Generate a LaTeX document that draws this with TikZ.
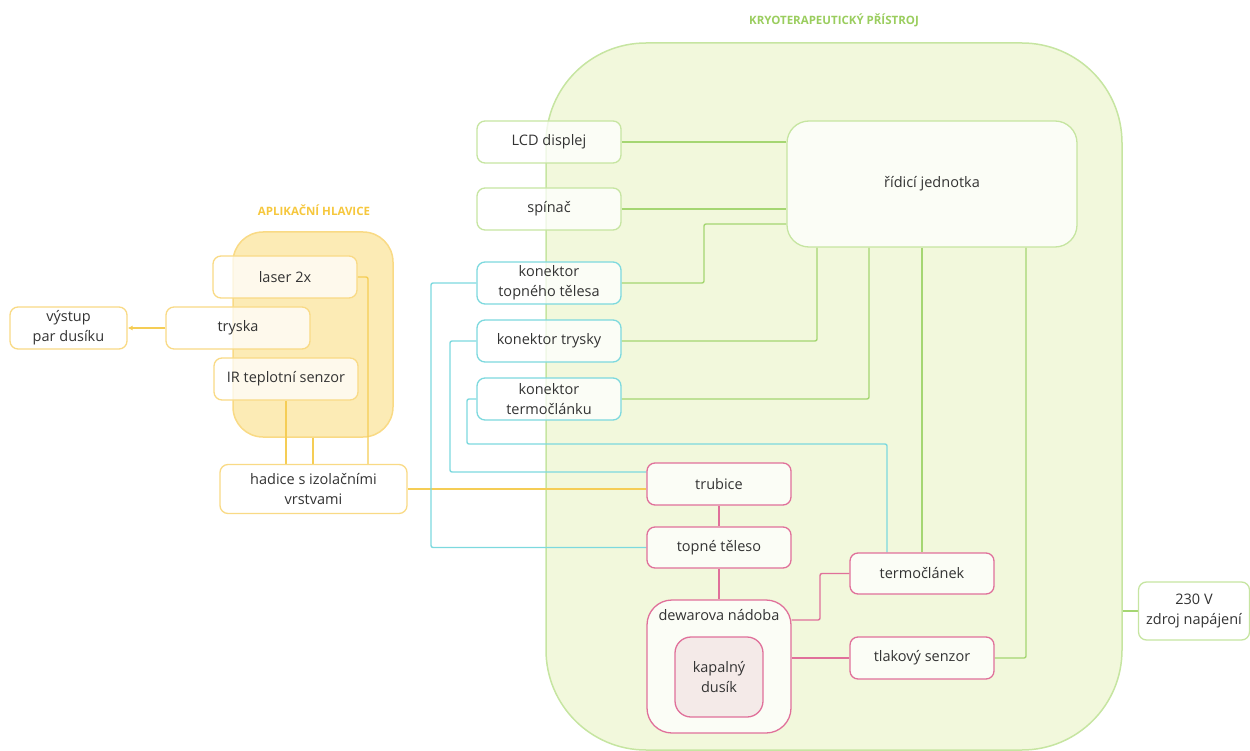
\documentclass[tikz,border=0pt]{standalone}
\usepackage{fontspec}
\setmainfont{Open Sans}
\usetikzlibrary{arrows.meta}
\pgfdeclarelayer{back}
\pgfdeclarelayer{wires}
\pgfsetlayers{back,wires,main}
\definecolor{gfill}{HTML}{F2F8DC}
\definecolor{gborder}{HTML}{C6E5A1}
\definecolor{gline}{HTML}{A5D672}
\definecolor{gtitle}{HTML}{9ACD5E}
\definecolor{yfill}{HTML}{FCEBB5}
\definecolor{yborder}{HTML}{F9DA85}
\definecolor{yline}{HTML}{F5CD55}
\definecolor{ytitle}{HTML}{F6C73D}
\definecolor{cline}{HTML}{7DD9DE}
\definecolor{pline}{HTML}{E0709A}
\definecolor{pfill}{HTML}{F4EAE8}
\definecolor{txt}{HTML}{333333}
\tikzset{
  base/.style={rounded corners=8pt, line width=1.3pt, fill=white, fill opacity=0.75, text opacity=1,
    text=txt, align=center, font=\fontsize{14.5}{20}\selectfont, inner sep=2pt,
    minimum width=144pt, minimum height=42pt},
  gbox/.style={base, draw=gborder},
  ybox/.style={base, draw=yborder},
  cbox/.style={base, draw=cline},
  pbox/.style={base, draw=pline},
  gl/.style={draw=gline, line width=1.4pt, rounded corners=2pt},
  yl/.style={draw=yline, line width=1.4pt, rounded corners=2pt},
  cl/.style={draw=cline, line width=1.4pt, rounded corners=2pt},
  pl/.style={draw=pline, line width=1.4pt, rounded corners=2pt},
  ttl/.style={font=\fontsize{11.5}{14}\selectfont\bfseries},
}
\begin{document}
\begin{tikzpicture}[x=1pt,y=-1pt]
\useasboundingbox (0,0) rectangle (1250,751);
% containers
\begin{pgfonlayer}{back}
\node[draw=gborder, fill=gfill, line width=1.5pt, rounded corners=100pt, minimum width=576pt, minimum height=707pt] (kryo) at (834,396.5) {};
\node[draw=yborder, fill=yfill, line width=1.5pt, rounded corners=30pt, minimum width=160pt, minimum height=205pt] (hlav) at (313,334.5) {};
\end{pgfonlayer}
\node[ttl, text=gtitle] (kryot) at (834,20) {KRYOTERAPEUTICKÝ PŘÍSTROJ};
\node[ttl, text=ytitle] (hlavt) at (314,210) {APLIKAČNÍ HLAVICE};

% nodes
\node[ybox, minimum width=117pt] (vystup) at (68.5,328) {výstup\\par dusíku};
\node[ybox] (tryska) at (238,328) {tryska};
\node[ybox] (laser) at (285,277) {laser 2x};
\node[ybox, minimum width=144pt] (ir) at (286,379) {IR teplotní senzor};
\node[ybox, minimum width=187pt, minimum height=49pt] (hadice) at (313.5,489) {hadice s izolačními\\vrstvami};

\node[gbox] (lcd) at (549,142) {LCD displej};
\node[gbox] (spinac) at (549,209) {spínač};
\node[cbox] (ktopne) at (549,283) {konektor\\topného tělesa};
\node[cbox] (ktrysky) at (549,341) {konektor trysky};
\node[cbox] (ktermo) at (549,399) {konektor\\termočlánku};
\node[gbox, rounded corners=22pt, minimum width=290pt, minimum height=126pt] (ridici) at (932,184) {řídicí jednotka};

\node[pbox] (trubice) at (719,484) {trubice};
\node[pbox, minimum height=41pt] (topne) at (719,547.5) {topné těleso};
\node[pbox, rounded corners=25pt, minimum height=133pt,
  label={[anchor=north, inner sep=0pt, yshift=-10pt, text=txt, font=\fontsize{14.5}{20}\selectfont]north:dewarova nádoba}] (dewar) at (719,666.5) {};
\node[base, draw=pline, fill=pfill, fill opacity=1, rounded corners=16pt, minimum width=88pt, minimum height=80pt] (kapal) at (719,677) {kapalný\\dusík};
\node[pbox, minimum height=41pt] (termo) at (922,573.5) {termočlánek};
\node[pbox] (tlak) at (922,658) {tlakový senzor};
\node[gbox, minimum width=111pt, minimum height=58pt] (zdroj) at (1194,611) {230 V\\zdroj napájení};

% connectors
\begin{pgfonlayer}{wires}
% yellow
\draw[yl, -{Latex[length=5pt,width=5pt]}] (tryska.west) -- (vystup.east);
\draw[yl] (ir.south) -- (ir.south |- hadice.north);
\draw[yl] (hlav.south) -- (hlav.south |- hadice.north);
\draw[yl] (laser.east) -| (hadice.north -| 368,0);
\draw[yl] (hadice.east) -- (hadice.east -| trubice.west);
% green
\draw[gl] (lcd.east) -- (lcd.east -| ridici.west);
\draw[gl] (spinac.east) -- (spinac.east -| ridici.west);
\draw[gl] (ktopne.east) -| (704,224) -- (ridici.west |- 0,224);
\draw[gl] (ktrysky.east) -| (ridici.south -| 817,0);
\draw[gl] (ktermo.east) -| (ridici.south -| 869,0);
\draw[gl] (ridici.south -| termo.north) -- (termo.north);
\draw[gl] (tlak.east) -| (ridici.south -| 1026,0);
\draw[gl] (kryo.east |- zdroj.west) -- (zdroj.west);
% cyan
\draw[cl] (ktopne.west) -| (431,547.5) -- (topne.west);
\draw[cl] (ktrysky.west) -| (450,472) -- (trubice.west |- 0,472);
\draw[cl] (ktermo.west) -| (467,444) -| (termo.north -| 887,0);
% pink
\draw[pl] (trubice.south) -- (topne.north);
\draw[pl] (topne.south) -- (dewar.north);
\draw[pl] (dewar.east |- 0,620) -| (820,573.5) -- (termo.west);
\draw[pl] (dewar.east |- tlak.west) -- (tlak.west);
\end{pgfonlayer}
\end{tikzpicture}
\end{document}
